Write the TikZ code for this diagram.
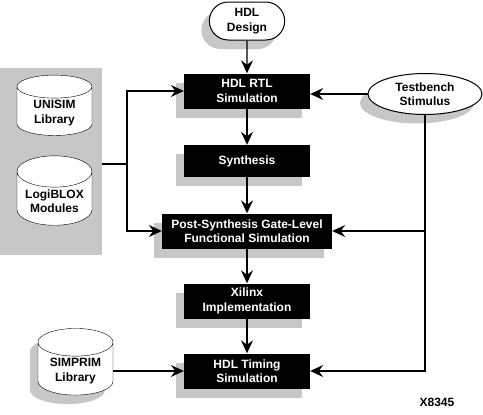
\documentclass[tikz,border=0pt]{standalone}
\usepackage{fontspec}
\setmainfont{Liberation Sans}
\usetikzlibrary{arrows.meta,positioning,shapes.geometric,shapes.misc,shadows}

\tikzset{
  box shadow/.style = {drop shadow={shadow xshift=-8pt,shadow yshift=-9pt,fill=black!22,opacity=1}},
  step box/.style = { rectangle , fill=black , text=white , minimum width=126pt , minimum height=35pt , align=center , inner sep=4pt , box shadow },
  lib/.style = { cylinder , shape border rotate=90 , aspect=0.5 , draw , fill=white , minimum width=75pt , minimum height=60pt , align=center , inner sep=2pt , box shadow },
  flow/.style = { -{Stealth[length=13pt,width=12pt,inset=4.5pt]} , line width=1.3pt }
}

\begin{document}
\begin{tikzpicture}[ x=1pt , y=-1pt , node distance =70pt , on grid , font=\fontsize{12}{14.5}\selectfont\bfseries ]
\useasboundingbox (0,0) rectangle (483,415);
% library panel
\node [ rectangle , fill=black!22 , minimum width=102pt , minimum height=187pt , inner sep=0 ] (panel) at (51,161.5) {};
% main flow
\node [ rounded rectangle , draw , line width=1pt , fill=white , minimum width=82pt , minimum height=38pt , align=center , box shadow ] (design) at (247,21) {HDL\\Design};
\node [ step box ] (rtl) [ below = of design ] {HDL RTL\\Simulation};
\node [ step box , minimum height=32pt ] (syn) [ below = of rtl ] {Synthesis};
\node [ step box , minimum width=170pt ] (post) [ below = of syn ] {Post-Synthesis Gate-Level\\Functional Simulation};
\node [ step box ] (xil) [ below = of post ] {Xilinx\\Implementation};
\node [ step box ] (tim) [ below = of xil ] {HDL Timing\\Simulation};
% side inputs
\node [ ellipse , draw , line width=1pt , fill=white , minimum width=114pt , minimum height=41pt , inner sep=0 , align=center , box shadow ] (tb) at (425,94) {Testbench\\Stimulus};
\node [ lib ] (unisim) at (54.5,113) {UNISIM\\Library};
\node [ lib ] (logi) at (54.5,201) {LogiBLOX\\Modules};
\node [ lib , minimum height=62pt ] (simprim) at (75.5,371) {SIMPRIM\\Library};
\node (code) at (437,402) {X8345};
\coordinate (j) at (127,164);
\path [ flow ]
(design) edge (rtl)
(rtl) edge (syn)
(syn) edge (post)
(post) edge (xil)
(xil) edge (tim)
(tb.west) edge (tb.west -| rtl.east)
(simprim.east |- tim.west) edge (tim.west)
(tb.south |- post.east) edge (post.east)
(j) edge [ to path={ |- (\tikztotarget) } ] (rtl.west)
(j) edge [ to path={ |- (\tikztotarget) } ] (post.west)
(tb.south) edge [ to path={ |- (\tikztotarget) } ] (tim.east);
\draw [ line width=1.3pt ] (panel.east |- j) -- (j);
\end{tikzpicture}
\end{document}
